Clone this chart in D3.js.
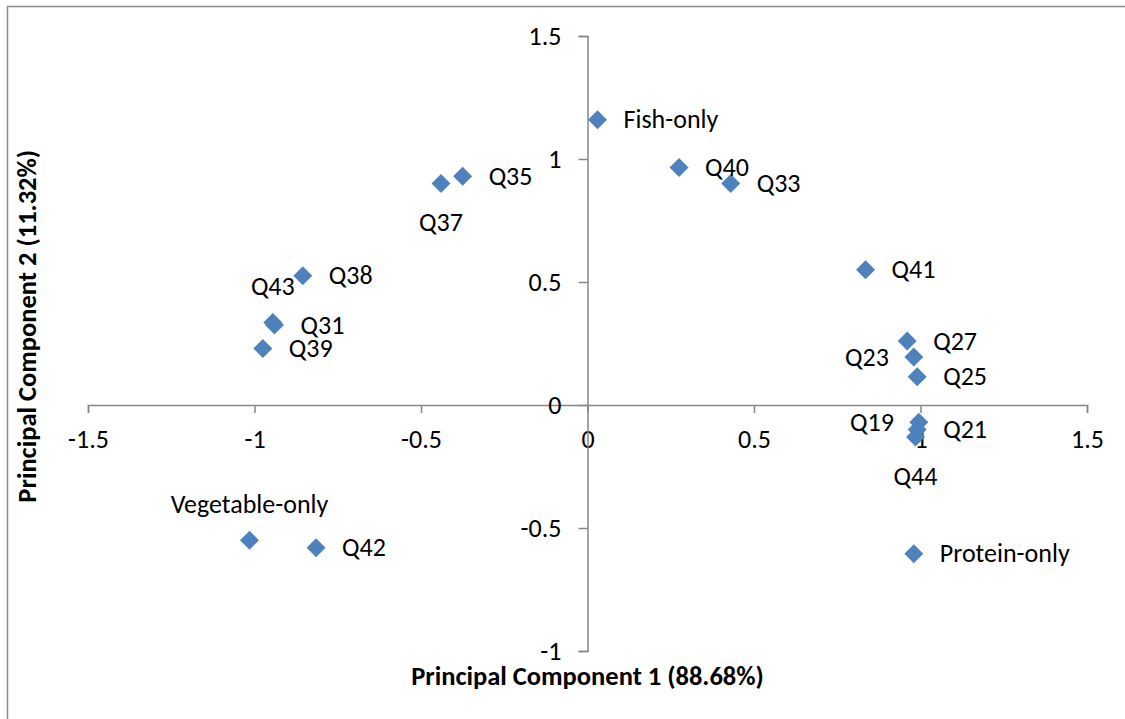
<!DOCTYPE html>
<html>
<head>
<meta charset="utf-8">
<script src="https://cdn.jsdelivr.net/npm/d3@7"></script>
<style>
  html, body { margin: 0; padding: 0; background: #fff; }
  svg text { font-family: Carlito, Calibri, "Open Sans", sans-serif; fill: #000; }
</style>
</head>
<body>
<div id="chart"></div>
<script>
// data
const labels = ['Fish-only', 'Q40', 'Q33', 'Q35', 'Q37', 'Q41', 'Q38', 'Q43', 'Q31', 'Q39',
    'Q27', 'Q23', 'Q25', 'Q19', 'Q21', 'Q44', 'Protein-only', 'Vegetable-only', 'Q42']
const pc1 = [0.03, 0.275, 0.43, -0.375, -0.44, 0.835, -0.855, -0.945, -0.94, -0.975,
    0.96, 0.98, 0.99, 0.995, 0.99, 0.985, 0.98, -1.015, -0.815]
const pc2 = [1.16, 0.965, 0.90, 0.93, 0.90, 0.55, 0.525, 0.335, 0.325, 0.23,
    0.26, 0.195, 0.115, -0.07, -0.10, -0.13, -0.605, -0.55, -0.58]
// where each data label sits relative to its marker
const labelPlace = ['right', 'right', 'right', 'right', 'below', 'right', 'right', 'above', 'right', 'right',
    'right', 'left', 'right', 'left', 'right', 'below', 'right', 'above', 'right']
const axisTicks = [-1.5, -1, -0.5, 0, 0.5, 1, 1.5]
const yTicks = [-1, -0.5, 0, 0.5, 1, 1.5]
const xTitle = 'Principal Component 1 (88.68%)'
const yTitle = 'Principal Component 2 (11.32%)'

function draw(){
    const dimensions = { width: 1125, height: 719 }

    const svg = d3.select('#chart')
        .append('svg')
        .attr('width', dimensions.width)
        .attr('height', dimensions.height)

    // chart frame (only top and left edges visible)
    svg.append('rect')
        .attr('x', 7.5).attr('y', 6.5)
        .attr('width', 1200).attr('height', 800)
        .attr('fill', 'none')
        .attr('stroke', '#8c8c8c')
        .attr('stroke-width', 1.5)

    // scales
    const xScale = d3.scaleLinear().domain([-1.5, 1.5]).range([88, 1087])
    const yScale = d3.scaleLinear().domain([-1, 1.5]).range([651, 36])

    const fmt = d => String(d)

    // x axis through y = 0
    const xAxis = svg.append('g')
        .attr('transform', `translate(0, ${yScale(0)})`)
        .call(d3.axisBottom(xScale).tickValues(axisTicks).tickFormat(fmt)
            .tickSize(8).tickPadding(17))

    // y axis through x = 0
    const yAxis = svg.append('g')
        .attr('transform', `translate(${xScale(0)}, 0)`)
        .call(d3.axisLeft(yScale).tickValues(yTicks).tickFormat(fmt)
            .tickSize(9).tickPadding(17))

    ;[xAxis, yAxis].forEach(ax => {
        ax.attr('font-family', null).attr('font-size', null)
        ax.selectAll('path, line').attr('stroke', '#868686').attr('stroke-width', 1.5)
        ax.selectAll('text').style('font-size', '26px')
    })
    yAxis.selectAll('text').attr('dy', '0.33em')

    // points
    const pts = labels.map((name, i) => ({ name, x: pc1[i], y: pc2[i], place: labelPlace[i] }))

    svg.append('g')
        .selectAll('path')
        .data(pts)
        .join('path')
        .attr('d', d3.symbol(d3.symbolSquare, 180))
        .attr('transform', d => `translate(${xScale(d.x)}, ${yScale(d.y)}) rotate(45)`)
        .attr('fill', '#4f81bd')

    // data labels
    svg.append('g')
        .style('font-size', '26px')
        .selectAll('text')
        .data(pts)
        .join('text')
        .attr('x', d => {
            const px = xScale(d.x)
            if (d.place === 'right') return px + 26
            if (d.place === 'left') return px - 25
            return px
        })
        .attr('y', d => {
            const py = yScale(d.y)
            if (d.place === 'above') return py - 36
            if (d.place === 'below') return py + 39
            return py
        })
        .attr('dy', '0.33em')
        .attr('text-anchor', d => d.place === 'right' ? 'start' : d.place === 'left' ? 'end' : 'middle')
        .text(d => d.name)

    // axis titles
    svg.append('text')
        .attr('x', xScale(0))
        .attr('y', 676)
        .attr('dy', '0.33em')
        .attr('text-anchor', 'middle')
        .style('font-size', '26.5px')
        .style('font-weight', 'bold')
        .text(xTitle)

    svg.append('text')
        .attr('transform', `translate(27, ${yScale(0.32)}) rotate(-90)`)
        .attr('dy', '0.33em')
        .attr('text-anchor', 'middle')
        .style('font-size', '26.5px')
        .style('font-weight', 'bold')
        .text(yTitle)
}

draw()
</script>
</body>
</html>
